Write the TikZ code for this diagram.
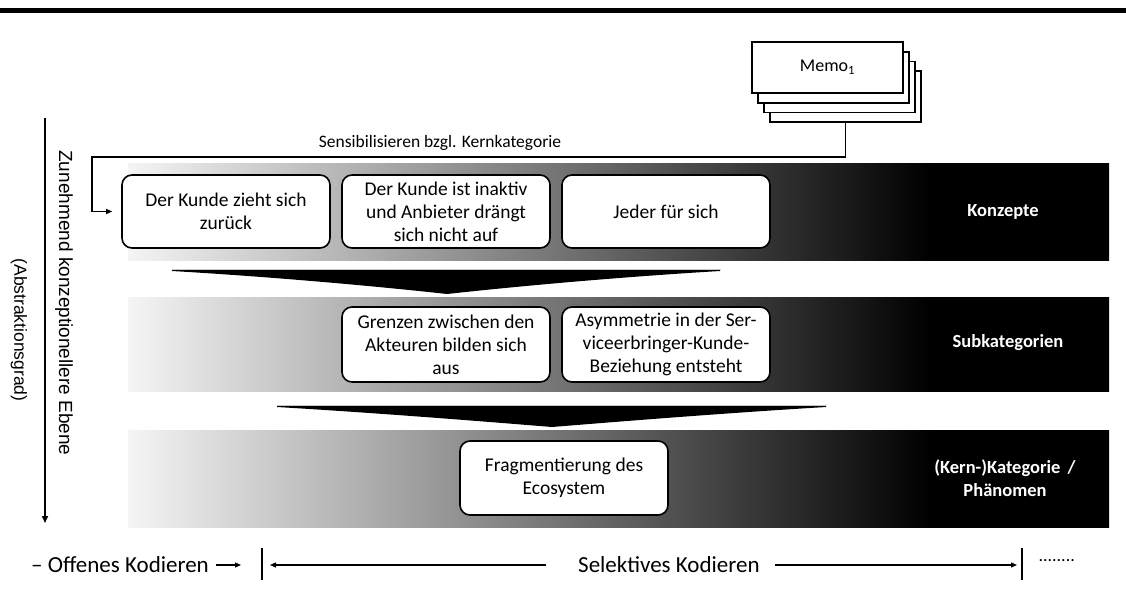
\documentclass[tikz,border=0pt]{standalone}
\usepackage{fontspec}
\setmainfont{Carlito}
\newfontfamily\arialfont{Liberation Sans}
\usetikzlibrary{arrows.meta}

% band fade: light grey on the left, black from about 82% of the width on
\pgfdeclarehorizontalshading{bandshade}{100bp}{%
  color(0bp)=(black!4); color(25bp)=(black!4);
  color(45bp)=(black!50); color(65.9bp)=(black); color(100bp)=(black)}

\tikzset{
  conceptbox/.style={draw=black, line width=1.6pt, rounded corners=10pt, fill=white,
    minimum width=208pt, minimum height=73pt, inner sep=2pt, align=center,
    font=\fontsize{19.5}{23}\selectfont},
  memobox/.style={draw=black, line width=1.6pt, fill=white,
    minimum width=151pt, minimum height=51pt, inner sep=0pt},
  levellabel/.style={text=white, align=center, font=\bfseries\fontsize{18.5}{23}\selectfont},
  chevron/.style={fill=black},
  link/.style={line width=1.2pt, -{Triangle[length=6pt,width=5pt]}},
  bottomtext/.style={font=\fontsize{23}{26}\selectfont, inner sep=0pt},
  axisline/.style={line width=1.5pt, -{Triangle[length=7pt,width=6pt]}},
}

\begin{document}
\begin{tikzpicture}[x=1pt,y=-1pt]
\useasboundingbox (0,0) rectangle (1126,604);

% rule across the top
\fill[black] (0,8) rectangle (1126,13);

% level bands
\foreach \ya/\yb in {164/260, 297/391, 430/527}{
  \fill[shading=bandshade] (128,\ya) rectangle (1109,\yb);
}

% chevrons between the levels
\fill[chevron] (172,269) -- (720,269) -- (720,271)
  .. controls (620,277) and (520,286) .. (447,294)
  .. controls (374,286) and (274,277) .. (172,271) -- cycle;
\draw[gray!45, line width=0.8pt] (172,269) -- (720,269);
\fill[chevron] (277,405) -- (826,405) -- (826,407)
  .. controls (726,413) and (626,421) .. (552,427)
  .. controls (478,421) and (378,413) .. (277,407) -- cycle;
\draw[gray!45, line width=0.8pt] (277,405) -- (826,405);

% concepts
\node[conceptbox] (n1) at (226,211.5) {Der Kunde zieht sich\\zurück};
\node[conceptbox] (n2) at (446,211.5) {Der Kunde ist inaktiv\\und Anbieter drängt\\sich nicht auf};
\node[conceptbox] (n3) at (666,211.5) {Jeder für sich};

% subcategories
\node[conceptbox, minimum height=75pt] (s1) at (446,344.5) {Grenzen zwischen den\\Akteuren bilden sich\\aus};
\node[conceptbox, minimum height=75pt] (s2) at (666,344.5) {Asymmetrie in der Ser-\\viceerbringer-Kunde-\\Beziehung entsteht};

% core category
\node[conceptbox, minimum height=74pt] (k1) at (564,478) {Fragmentierung des\\Ecosystem};

% level names
\node[levellabel] (l1) at (1003,212) {Konzepte};
\node[levellabel] (l2) at (1008,343) {Subkategorien};
\node[levellabel] (l3) at (1005,478) {(Kern-)Kategorie \,/\\Phänomen};

% stack of memos
\node[memobox] (m3) at (845.5,96.5) {};
\node[memobox] (m2) at (839.5,87) {};
\node[memobox] (m1) at (833.5,77.5) {};
\node[memobox, font=\fontsize{18}{20}\selectfont] (m0) at (827.5,67.5) {Memo\textsubscript{1}};

% feedback from the memos to the concepts
\coordinate (fbR) at (845.5,157);
\coordinate (fbL) at (92,157);
\draw[link, shorten >=9pt] (m3.south) -- (fbR) -- (fbL) -- (fbL |- n1.west) -- (n1.west);
\node[font=\fontsize{17.5}{20}\selectfont] (fbtext) at (440,143) {Sensibilisieren bzgl. Kernkategorie};

% abstraction axis
\coordinate (axTop) at (45,118);
\coordinate (axBot) at (45,523);
\draw[axisline] (axTop) -- (axBot);
\node[rotate=-90, font=\arialfont\fontsize{19}{20}\selectfont] (axText) at (64,303) {Zunehmend konzeptionellere Ebene};
\node[rotate=-90, font=\arialfont\fontsize{17.5}{20}\selectfont] (axText2) at (19,330) {(Abstraktionsgrad)};

% coding phases along the bottom
\node[bottomtext, anchor=west] (open) at (31,565) {– Offenes Kodieren};
\coordinate (b1) at (262,565);
\draw[line width=1.2pt] (262,548) -- (262,580);
\draw[link] ([xshift=7pt]open.east) -- ([xshift=-21pt]b1);
\node[bottomtext, anchor=west] (sel) at (578,565) {Selektives Kodieren};
\coordinate (b2) at (1022,565);
\draw[line width=1.2pt] (1022,548) -- (1022,580);
\draw[link] ([xshift=-32pt]sel.west) -- ([xshift=8pt]b1);
\draw[link] ([xshift=15pt]sel.east) -- ([xshift=-5pt]b2);
\node[font=\fontsize{18}{20}\selectfont, anchor=west] (more) at (1035,561) {........};

\end{tikzpicture}
\end{document}
